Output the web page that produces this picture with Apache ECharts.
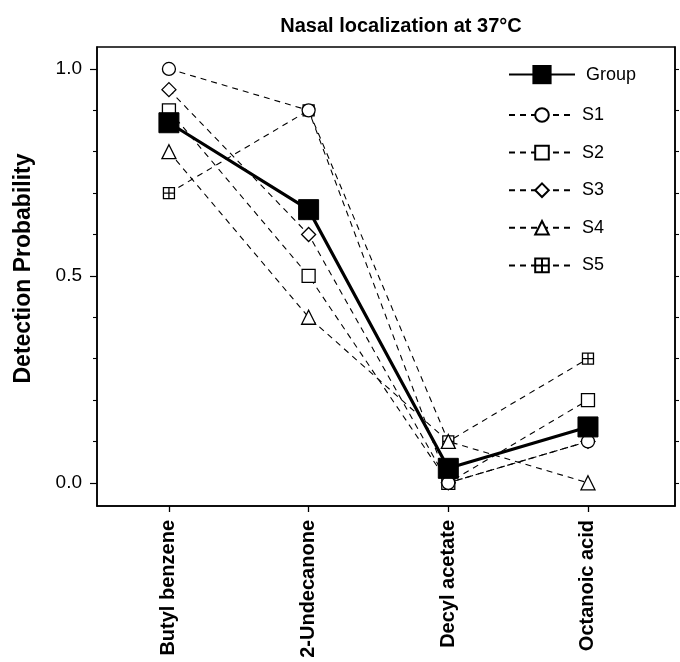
<!DOCTYPE html>
<html><head><meta charset="utf-8">
<script src="https://cdn.jsdelivr.net/npm/echarts@6/dist/echarts.min.js"></script>
<style>html,body{margin:0;padding:0;background:#fff}#c{width:680px;height:662px}</style>
</head><body><div id="c"></div>
<script>
const categories = ['Butyl benzene', '2-Undecanone', 'Decyl acetate', 'Octanoic acid'];
const groupValues = [0.87, 0.66, 0.035, 0.135];
const s1Values = [1.0, 0.9, 0.0, 0.1];
const s2Values = [0.9, 0.5, 0.0, 0.2];
const s3Values = [0.95, 0.6, 0.0, 0.1];
const s4Values = [0.8, 0.4, 0.1, 0.0];
const s5Values = [0.7, 0.9, 0.1, 0.3];
const yMajorTicks = [0, 0.5, 1.0];
const yMinorTicks = [0.1, 0.2, 0.3, 0.4, 0.6, 0.7, 0.8, 0.9];
const yRightTicks = [0, 0.1, 0.2, 0.3, 0.4, 0.5, 0.6, 0.7, 0.8, 0.9, 1.0];
const catIdx = categories.map((c, i) => i);

const FONT = '"Liberation Sans", Arial, Helvetica, sans-serif';
const pts = v => v.map((y, i) => [i, y]);
const YMIN = -0.056, YMAX = 1.053;
const XMIN = -0.515, XMAX = 3.623;

function subj(name, values, symbol, size) {
  return {
    name, type: 'line', data: pts(values), xAxisIndex: 0, yAxisIndex: 0,
    symbol, symbolSize: size,
    itemStyle: { color: '#fff', borderColor: '#000', borderWidth: 1.3 },
    lineStyle: { color: '#000', width: 1.1, type: [6, 5] },
    emphasis: { disabled: true }
  };
}
const plusBox = 'path://M0 0H10V10H0Z M5 0V10 M0 5H10';

const chart = echarts.init(document.getElementById('c'), null, { renderer: 'canvas' });
chart.setOption({
  animation: false,
  backgroundColor: '#fff',
  textStyle: { fontFamily: FONT, color: '#000' },
  title: {
    text: 'Nasal localization at 37°C', left: 396, textAlign: 'center', top: 11,
    textStyle: { fontFamily: FONT, fontSize: 20, fontWeight: 'bold', color: '#000' }
  },
  grid: { left: 97, right: 5, top: 47, bottom: 156, show: true, borderColor: '#000', borderWidth: 1.5, backgroundColor: 'transparent' },
  legend: [
    {
      data: ['Group'], orient: 'vertical', left: 508, top: 65, padding: 0,
      itemWidth: 66, itemHeight: 24, itemGap: 0,
      textStyle: { fontFamily: FONT, fontSize: 18, color: '#000', padding: [0, 0, 0, 6] }
    },
    {
      data: ['S1', 'S2', 'S3', 'S4', 'S5'], orient: 'vertical', left: 508, top: 106, padding: 0,
      itemWidth: 66, itemHeight: 17, itemGap: 19.6,
      textStyle: { fontFamily: FONT, fontSize: 18, color: '#000', padding: [0, 0, 0, 2] }
    }
  ],
  xAxis: {
    type: 'value', min: XMIN, max: XMAX,
    axisLine: { show: true, onZero: false, lineStyle: { color: '#000', width: 1.5 } },
    axisTick: { show: true, customValues: catIdx, length: 6, lineStyle: { color: '#000', width: 1.3 } },
    axisLabel: {
      customValues: catIdx, formatter: v => categories[Math.round(v)], rotate: 90, margin: 14,
      fontFamily: FONT, fontSize: 20, fontWeight: 'bold', color: '#000'
    },
    splitLine: { show: false }
  },
  yAxis: [
    {
      type: 'value', position: 'left', min: YMIN, max: YMAX,
      axisLine: { show: true, onZero: false, lineStyle: { color: '#000', width: 1.5 } },
      axisTick: { show: true, customValues: yMajorTicks, length: 7, lineStyle: { color: '#000', width: 1.2 } },
      axisLabel: { customValues: yMajorTicks, formatter: v => v.toFixed(1), margin: 15, fontFamily: FONT, fontSize: 19, color: '#000' },
      splitLine: { show: false },
      name: 'Detection Probability', nameLocation: 'middle', nameGap: 62,
      nameTextStyle: { fontFamily: FONT, fontSize: 23, fontWeight: 'bold', color: '#000', padding: [0, 0, 0, 16] }
    },
    {
      type: 'value', position: 'left', min: YMIN, max: YMAX,
      axisLine: { show: false, onZero: false },
      axisTick: { show: true, customValues: yMinorTicks, length: 4, lineStyle: { color: '#000', width: 1.1 } },
      axisLabel: { show: false }, splitLine: { show: false }
    },
    {
      type: 'value', position: 'right', min: YMIN, max: YMAX,
      axisLine: { show: true, onZero: false, lineStyle: { color: '#000', width: 1.5 } },
      axisTick: { show: true, customValues: yRightTicks, length: 4, lineStyle: { color: '#000', width: 1.1 } },
      axisLabel: { show: false }, splitLine: { show: false }
    }
  ],
  series: [
    subj('S5', s5Values, plusBox, 11),
    subj('S2', s2Values, 'rect', 13),
    subj('S3', s3Values, 'diamond', 14),
    subj('S4', s4Values, 'triangle', 14),
    subj('S1', s1Values, 'circle', 13),
    {
      name: 'Group', type: 'line', data: pts(groupValues), xAxisIndex: 0, yAxisIndex: 0,
      symbol: 'rect', symbolSize: 20,
      itemStyle: { color: '#000', borderColor: '#000' },
      lineStyle: { color: '#000', width: 3.2, type: 'solid' },
      emphasis: { disabled: true }
    }
  ]
});
</script></body></html>
